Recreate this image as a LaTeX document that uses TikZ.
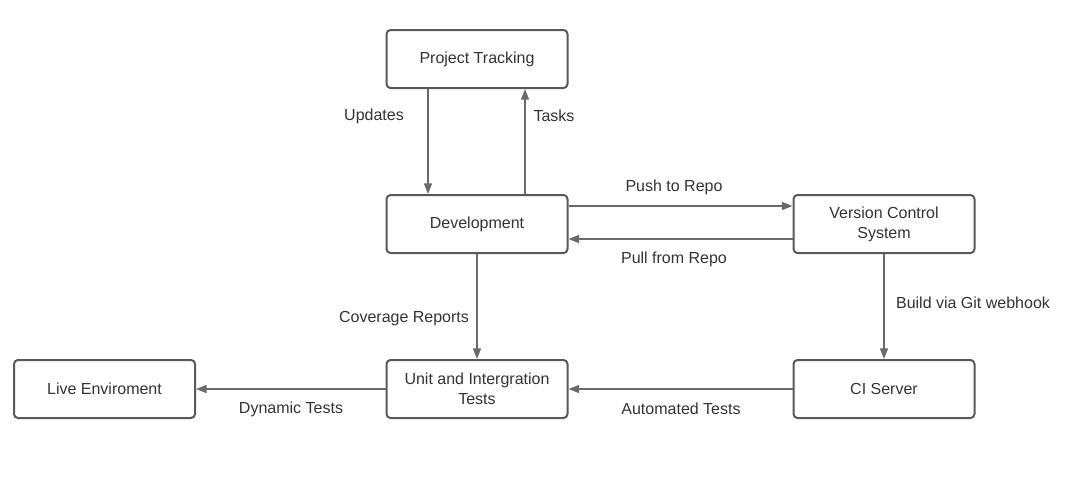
\documentclass[tikz,border=0pt]{standalone}
\usepackage{fontspec}
\setmainfont{Liberation Sans}
\usetikzlibrary{arrows.meta}
\definecolor{boxline}{HTML}{595959}
\definecolor{arrline}{HTML}{6A6A6A}
\definecolor{txt}{HTML}{333333}

\begin{document}
\begin{tikzpicture}[x=0.75pt, y=-0.75pt]
  \tikzset{
    stage/.style={draw=boxline, line width=1.5pt, rounded corners=3pt, fill=white,
      minimum width=135.75pt, minimum height=43.5pt, align=center, text=txt,
      font=\fontsize{12}{15}\selectfont},
    flow/.style={draw=arrline, line width=1.2pt, -{Triangle[length=8pt,width=6pt]}},
    flowlbl/.style={text=txt, font=\fontsize{12}{15}\selectfont, inner sep=0pt}
  }
  \useasboundingbox (0,0) rectangle (1070,486);
  % stages
  \node[stage] (tracking) at (477,59) {Project Tracking};
  \node[stage] (dev) at (477,224) {Development};
  \node[stage] (vcs) at (884,224) {Version Control\\System};
  \node[stage] (tests) at (477,389) {Unit and Intergration\\Tests};
  \node[stage] (ci) at (884,389) {CI Server};
  \node[stage] (live) at (104.5,389) {Live Enviroment};
  % connectors
  \draw[flow] ([xshift=-36.75pt]tracking.south) -- ([xshift=-36.75pt]dev.north);
  \draw[flow] ([xshift=36pt]dev.north) -- ([xshift=36pt]tracking.south);
  \draw[flow] ([yshift=13.5pt]dev.east) -- ([yshift=13.5pt]vcs.west);
  \draw[flow] ([yshift=-11.25pt]vcs.west) -- ([yshift=-11.25pt]dev.east);
  \draw[flow] (vcs) -- (ci);
  \draw[flow] (dev) -- (tests);
  \draw[flow] (ci) -- (tests);
  \draw[flow] (tests) -- (live);
  % labels
  \node[flowlbl] (updates) at (374,116) {Updates};
  \node[flowlbl] (tasks) at (554,116) {Tasks};
  \node[flowlbl] (push) at (674,187) {Push to Repo};
  \node[flowlbl] (pull) at (674,259) {Pull from Repo};
  \node[flowlbl] (build) at (973,303) {Build via Git webhook};
  \node[flowlbl] (coverage) at (404,319) {Coverage Reports};
  \node[flowlbl] (automated) at (681,409) {Automated Tests};
  \node[flowlbl] (dynamic) at (291,409) {Dynamic Tests};
\end{tikzpicture}
\end{document}
